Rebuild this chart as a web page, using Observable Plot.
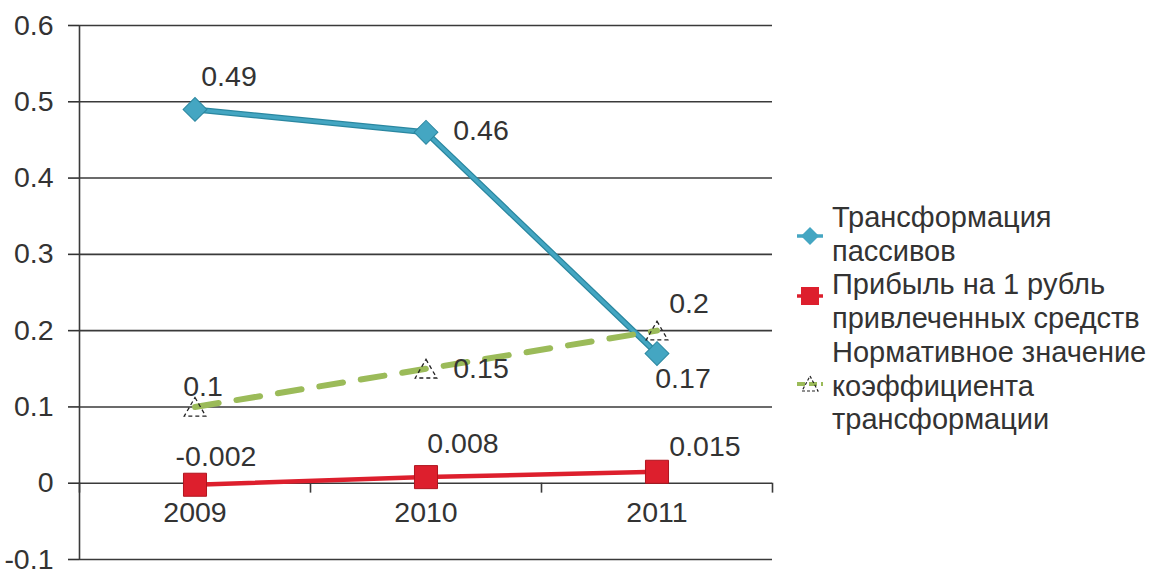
<!DOCTYPE html>
<html>
<head>
<meta charset="utf-8">
<script src="https://cdn.jsdelivr.net/npm/d3@7"></script>
<script src="https://cdn.jsdelivr.net/npm/@observablehq/plot@0.6"></script>
<style>
  html, body { margin: 0; padding: 0; background: #fff; }
  #wrap { position: relative; width: 1155px; height: 569px; overflow: hidden; font-family: "Liberation Sans", Arial, sans-serif; }
  #legend { position: absolute; left: 832px; top: 201px; font-size: 29px; line-height: 33.7px; color: #333; white-space: nowrap; }
  .lm { position: absolute; }
</style>
</head>
<body>
<div id="wrap"></div>
<script>
// ---- data ----
const years = [2009, 2010, 2011];
const seriesNames = ["Трансформация пассивов", "Прибыль на 1 рубль привлеченных средств", "Нормативное значение коэффициента трансформации"];
const transformValues = [0.49, 0.46, 0.17];
const profitValues = [-0.002, 0.008, 0.015];
const normValues = [0.1, 0.15, 0.2];
const transformLabels = ["0.49", "0.46", "0.17"];
const profitLabels = ["-0.002", "0.008", "0.015"];
const normLabels = ["0.1", "0.15", "0.2"];
const yTicks = [-0.1, 0, 0.1, 0.2, 0.3, 0.4, 0.5, 0.6];
const legendLines = [["Трансформация", "пассивов"], ["Прибыль на 1 рубль", "привлеченных средств"], ["Нормативное значение", "коэффициента", "трансформации"]];

// ---- layout / style ----
const C_BLUE = "#44A6C2", C_BLUE_DARK = "#2A87A0", C_RED = "#DD1F2D", C_RED_DARK = "#B0151F", C_GREEN = "#9BBB59";
const TXT = "#333";
const FS = 28.5;
const labelOffsets = {
  transform: [[34, -33], [55, -1], [26, 25]],
  profit: [[21, -28], [37, -33], [48, -25]],
  norm: [[8, -20], [55, 0], [32, -27]]
};

const rows = (vals) => years.map((y, i) => ({year: y, value: vals[i]}));
const tData = rows(transformValues), pData = rows(profitValues), nData = rows(normValues);
const boundaries = [years[0] - 0.5, ...years.map(y => y + 0.5)];
const tickLen = 0.013;

function labelMarks(data, labels, offs) {
  return data.map((d, i) => Plot.text([d], {x: "year", y: "value", text: () => labels[i], dx: offs[i][0], dy: offs[i][1], fill: TXT, fontSize: FS}));
}

const chart = Plot.plot({
  width: 1155, height: 569,
  marginLeft: 79, marginRight: 383, marginTop: 25, marginBottom: 10,
  style: {fontFamily: "'Liberation Sans', Arial, sans-serif", background: "transparent"},
  x: {type: "linear", domain: [boundaries[0], boundaries[boundaries.length - 1]], axis: null},
  y: {domain: [-0.1, 0.6], axis: null},
  marks: [
    Plot.ruleY(yTicks, {stroke: "#3a3a3a", strokeWidth: 1.6}),
    Plot.axisY({ticks: yTicks, tickSize: 11, tickPadding: 15, tickFormat: d => String(d), fontSize: FS, color: TXT, strokeWidth: 1.6, label: null}),
    Plot.ruleX([boundaries[0]], {y1: -0.1, y2: 0.6, stroke: "#3a3a3a", strokeWidth: 1.6}),
    Plot.ruleX(boundaries, {y1: 0, y2: -tickLen, stroke: "#3a3a3a", strokeWidth: 1.6}),
    Plot.text(years, {x: d => d, y: 0, dy: 30, text: d => String(d), fill: TXT, fontSize: FS}),
    // Transformation (blue)
    Plot.line(tData, {x: "year", y: "value", stroke: C_BLUE_DARK, strokeWidth: 6}),
    Plot.line(tData, {x: "year", y: "value", stroke: C_BLUE, strokeWidth: 3.5}),
    Plot.dot(tData, {x: "year", y: "value", symbol: "square", rotate: 45, r: 9.5, fill: C_BLUE, stroke: C_BLUE_DARK, strokeWidth: 1}),
    // Profit (red)
    Plot.line(pData, {x: "year", y: "value", stroke: C_RED, strokeWidth: 4.5}),
    Plot.dot(pData, {x: "year", y: "value", symbol: "square", r: 13, fill: C_RED, stroke: C_RED_DARK, strokeWidth: 1}),
    // Norm (green dashed)
    Plot.line(nData, {x: "year", y: "value", stroke: C_GREEN, strokeWidth: 6, strokeDasharray: "24,18"}),
    Plot.dot(nData, {x: "year", y: "value", symbol: "triangle", r: 8, dy: 3, fill: "none", stroke: "#222", strokeWidth: 1.3, strokeDasharray: "4,3"}),
    ...labelMarks(tData, transformLabels, labelOffsets.transform),
    ...labelMarks(pData, profitLabels, labelOffsets.profit),
    ...labelMarks(nData, normLabels, labelOffsets.norm)
  ]
});

const wrap = document.getElementById("wrap");
wrap.appendChild(chart);

// legend
const legend = document.createElement("div");
legend.id = "legend";
legend.innerHTML = legendLines.map(lines => lines.map(l => `<div>${l}</div>`).join("")).join("");
wrap.appendChild(legend);

const markers = [
  {cy: 236, svg: `<line x1="0" y1="11" x2="26" y2="11" stroke="${C_BLUE}" stroke-width="3.5"/><path d="M13 2 L22 11 L13 20 L4 11 Z" fill="${C_BLUE}"/>`},
  {cy: 296, svg: `<line x1="0" y1="11" x2="26" y2="11" stroke="${C_RED}" stroke-width="3.5"/><rect x="4" y="2" width="18" height="18" fill="${C_RED}"/>`},
  {cy: 384, svg: `<line x1="0" y1="11" x2="26" y2="11" stroke="${C_GREEN}" stroke-width="4" stroke-dasharray="8,4"/><path d="M13 3 L21 18 L5 18 Z" fill="none" stroke="#222" stroke-width="1.2" stroke-dasharray="3,2"/>`}
];
markers.forEach(m => {
  const s = document.createElementNS("http://www.w3.org/2000/svg", "svg");
  s.setAttribute("width", 26); s.setAttribute("height", 22);
  s.setAttribute("class", "lm");
  s.style.left = "797px"; s.style.top = (m.cy - 11) + "px";
  s.innerHTML = m.svg;
  wrap.appendChild(s);
});
</script>
</body>
</html>
